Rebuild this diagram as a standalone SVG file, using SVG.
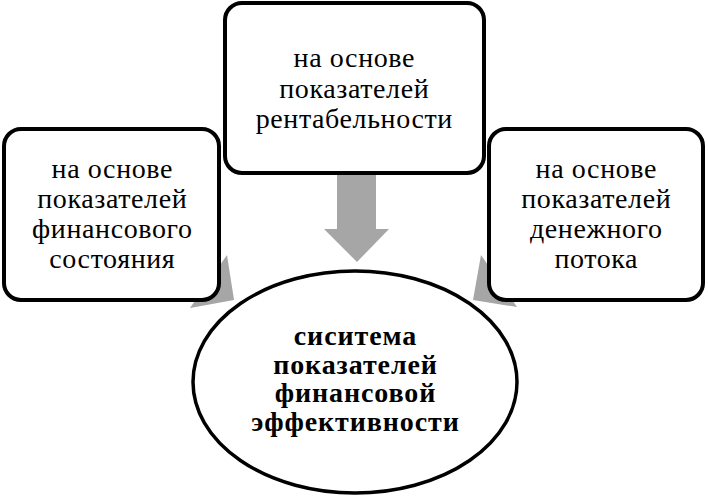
<svg xmlns="http://www.w3.org/2000/svg" width="708" height="498" viewBox="0 0 708 498">
<style>
.box{fill:#fff;stroke:#000;stroke-width:4}
.arr{fill:#a6a6a6;stroke:none}
.t{font-family:"Liberation Serif","Times New Roman",serif;font-size:28px;letter-spacing:0.6px;fill:#000;text-anchor:middle}
.b{font-family:"Liberation Serif","Times New Roman",serif;font-size:28px;letter-spacing:0.9px;font-weight:bold;fill:#000;text-anchor:middle}
</style>
<rect width="708" height="498" fill="#fff"/>
<g id="connectors">
<polygon class="arr" points="337,165 376,165 376,229 389,229 357,262 324,229 337,229"/>
<polygon class="arr" points="227,255 234,300 190,308"/>
<polygon class="arr" points="481,255 473,300 517,307"/>
</g>
<g id="node-top">
<rect class="box" x="225" y="3" width="259" height="170" rx="17"/>
<text class="t" x="354.3" y="67">на основе</text>
<text class="t" x="354.3" y="97.5">показателей</text>
<text class="t" x="354.3" y="128">рентабельности</text>
</g>
<g id="node-left">
<rect class="box" x="4" y="129" width="215" height="171" rx="17"/>
<text class="t" x="112.3" y="178">на основе</text>
<text class="t" x="112.3" y="208">показателей</text>
<text class="t" x="112.3" y="238">финансового</text>
<text class="t" x="112.3" y="268">состояния</text>
</g>
<g id="node-right">
<rect class="box" x="489" y="129" width="214" height="171" rx="17"/>
<text class="t" x="596.3" y="178">на основе</text>
<text class="t" x="596.3" y="208">показателей</text>
<text class="t" x="596.3" y="238">денежного</text>
<text class="t" x="596.3" y="268">потока</text>
</g>
<g id="node-center">
<ellipse cx="355" cy="382" rx="162" ry="111" fill="#fff" stroke="#000" stroke-width="3.5"/>
<text class="b" x="355.5" y="345">сиситема</text>
<text class="b" x="355.5" y="373.5">показателей</text>
<text class="b" x="355.5" y="402">финансовой</text>
<text class="b" x="355.5" y="430.5">эффективности</text>
</g>
</svg>
